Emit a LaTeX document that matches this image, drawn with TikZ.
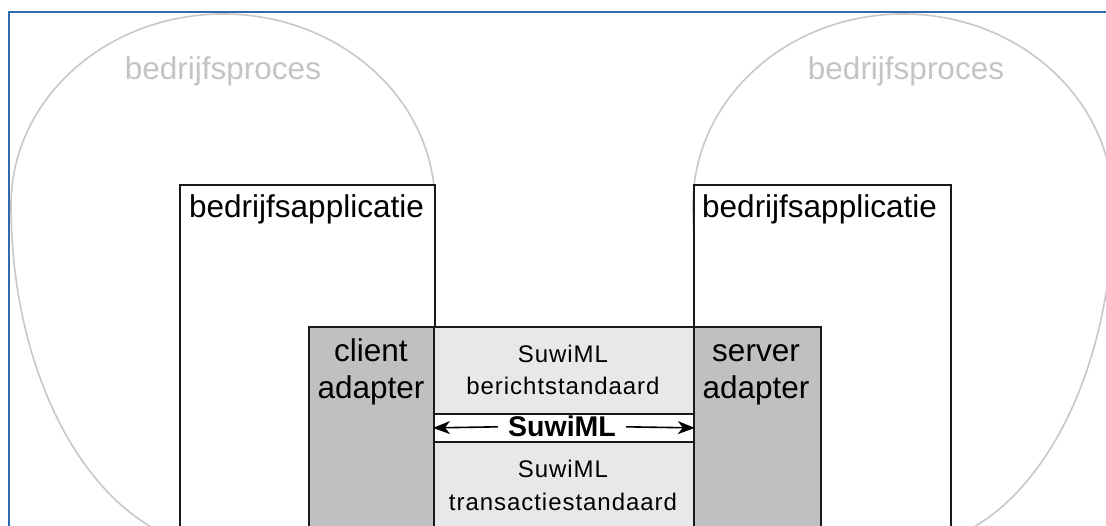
\documentclass[tikz,border=0pt]{standalone}
\usepackage{fontspec}
\setmainfont{Liberation Sans}
\newfontfamily\spacedfont[LetterSpace=4]{Liberation Sans}
\usetikzlibrary{arrows.meta}
\definecolor{frameblue}{HTML}{2E6AAD}
\definecolor{blobgray}{HTML}{C8C8C8}
\definecolor{proctext}{HTML}{C4C4C4}
\definecolor{adaptgray}{HTML}{C0C0C0}
\definecolor{midgray}{HTML}{E8E8E8}
\definecolor{linedark}{HTML}{1A1A1A}
\begin{document}
\begin{tikzpicture}[x=1pt,y=-1pt,
  frameline/.style={draw=frameblue,line width=1.8pt},
  blob/.style={draw=blobgray,line width=1.6pt},
  proclabel/.style={text=proctext,inner sep=0pt,font=\fontsize{31.5}{37}\selectfont},
  bigtext/.style={text=black,inner sep=0pt,font=\fontsize{31.5}{37}\selectfont},
  smalltext/.style={text=black,inner sep=0pt,font=\spacedfont\fontsize{24}{32}\selectfont},
  appbox/.style={draw=linedark,fill=white,line width=1.8pt,inner sep=0pt},
  adaptbox/.style={draw=linedark,fill=adaptgray,line width=1.8pt,inner sep=0pt},
  midbox/.style={draw=linedark,fill=midgray,line width=1.8pt,inner sep=0pt},
  bandbox/.style={draw=linedark,fill=white,line width=1.8pt,inner sep=0pt},
  boldlabel/.style={inner xsep=10pt,inner ysep=0pt,font=\fontsize{28.5}{30}\selectfont\bfseries},
  arr/.style={draw=black,line width=1.6pt,-{Stealth[length=17pt,width=13pt,inset=5pt]}}
]
\useasboundingbox (0,0) rectangle (1106,526);
\clip (0,0) rectangle (1106,526);
\fill[white] (0,0) rectangle (1106,526);

% outer frame
\draw[frameline] (9,540) -- (9,12) -- (1120,12);

% business process blobs
\draw[blob] (11,205) arc[start angle=180,end angle=360,x radius=212,y radius=191]
  arc[start angle=0,end angle=180,x radius=212,y radius=342] -- cycle;
\draw[blob] (693,205) arc[start angle=180,end angle=360,x radius=210,y radius=191]
  arc[start angle=0,end angle=180,x radius=210,y radius=342] -- cycle;
\node[proclabel,anchor=base] (procL) at (223,80) {bedrijfsproces};
\node[proclabel,anchor=base] (procR) at (906,80) {bedrijfsproces};

% applications
\node[appbox,anchor=north west,minimum width=255pt,minimum height=380pt] (appL) at (179,184) {};
\node[appbox,anchor=north west,minimum width=257pt,minimum height=380pt] (appR) at (693,184) {};
\node[bigtext,anchor=base west] (appLtxt) at (189,218) {bedrijfsapplicatie};
\node[bigtext,anchor=base west] (appRtxt) at (702,218) {bedrijfsapplicatie};

% adapter panel
\node[adaptbox,anchor=north west,minimum width=512pt,minimum height=240pt] (panel) at (308,326) {};
\node[midbox,anchor=north west,minimum width=260pt,minimum height=240pt] (mid) at (433,326) {};
\node[bandbox,anchor=north west,minimum width=260pt,minimum height=28pt] (band) at (433,413) {};

\node[bigtext,anchor=base] (client) at (371,362) {client};
\node[bigtext,anchor=base] (cadapter) at (371,399) {adapter};
\node[bigtext,anchor=base] (server) at (756,362) {server};
\node[bigtext,anchor=base] (sadapter) at (756,399) {adapter};

\node[smalltext,anchor=base] (suwiA) at (563,363) {SuwiML};
\node[smalltext,anchor=base] (bericht) at (563,395) {berichtstandaard};
\node[smalltext,anchor=base] (suwiB) at (563,477) {SuwiML};
\node[smalltext,anchor=base] (trans) at (563,510) {transactiestandaard};

% SuwiML exchange
\node[boldlabel,anchor=base] (suwiml) at (562,437) {SuwiML};
\draw[arr] (suwiml.west) -- (band.west);
\draw[arr] (suwiml.east) -- (band.east);
\end{tikzpicture}
\end{document}
